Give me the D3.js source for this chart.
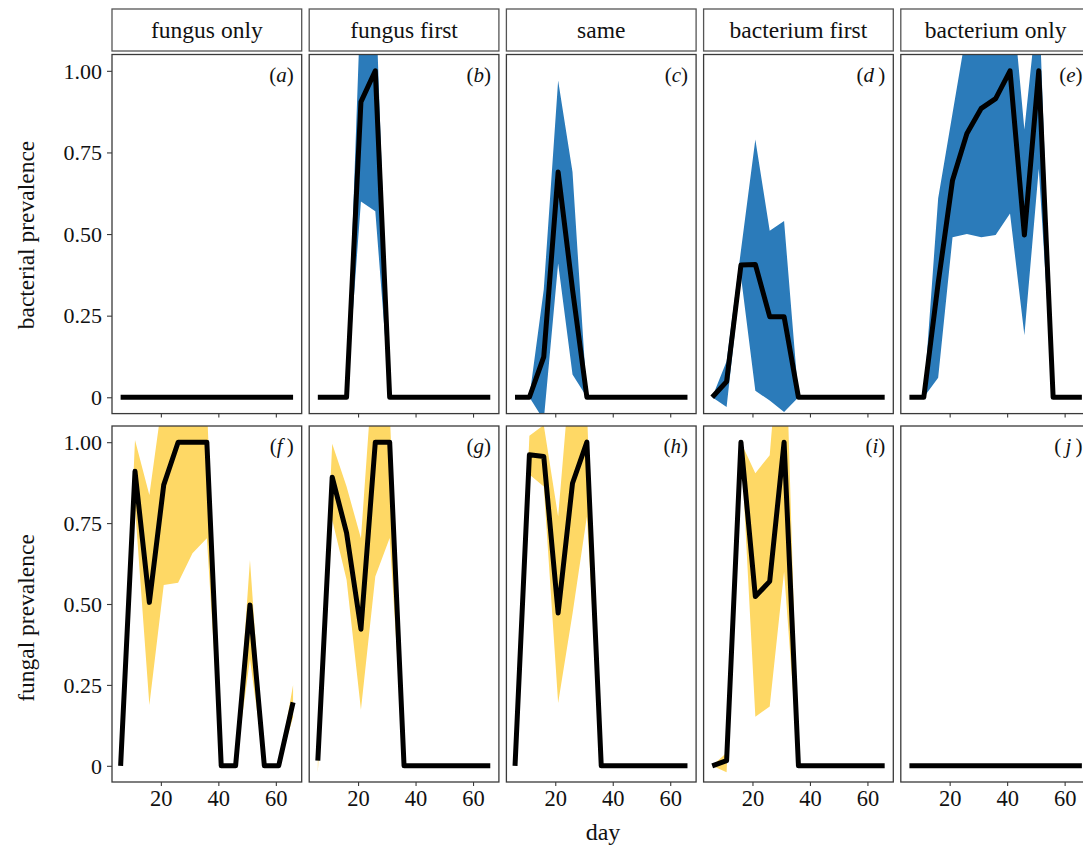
<!DOCTYPE html>
<html><head><meta charset="utf-8">
<script src="https://cdn.jsdelivr.net/npm/d3@7"></script>
<style>
body{margin:0;background:#fff}
svg{display:block}
text{font-family:"Liberation Serif","Times New Roman",serif;fill:#111}
</style>
</head><body>
<svg id="chart" width="1083" height="848"></svg>
<script>
// ---------- data ----------
const days = [6, 11, 16, 21, 26, 31, 36, 41, 46, 51, 56, 61, 66];
const conditions = ["fungus only", "fungus first", "same", "bacterium first", "bacterium only"];
const bacLetters = ["a", "b", "c", "d", "e"];
const funLetters = ["f", "g", "h", "i", "j"];
const yTickValues = [0, 0.25, 0.5, 0.75, 1];
const yTickLabels = ["0", "0.25", "0.50", "0.75", "1.00"];
const xTickValues = [20, 40, 60];
const rowTitles = ["bacterial prevalence", "fungal prevalence"];
const xTitle = "day";

// bacterial prevalence (mean, lower, upper) per condition
const bacMean = [
  [0,0,0,0,0,0,0,0,0,0,0,0,0],
  [0,0,0,0.905,1,0,0,0,0,0,0,0,0],
  [0,0,0.124,0.69,0.33,0,0,0,0,0,0,0,0],
  [0,0.048,0.405,0.407,0.247,0.247,0,0,0,0,0,0,0],
  [0,0,0.35,0.665,0.808,0.885,0.915,1,0.497,1,0,0,0]
];
const bacLow = [
  null,
  [0,0,0,0.60,0.57,0,0,0,0,0,0,0,0],
  [0,0,-0.07,0.41,0.07,0,0,0,0,0,0,0,0],
  [0,-0.03,0.37,0.02,-0.01,-0.045,0,0,0,0,0,0,0],
  [0,0,0.06,0.49,0.50,0.49,0.497,0.563,0.19,0.70,0,0,0]
];
const bacHigh = [
  null,
  [0,0,0,1.24,1.26,0,0,0,0,0,0,0,0],
  [0,0,0.33,0.97,0.69,0,0,0,0,0,0,0,0],
  [0,0.11,0.45,0.79,0.51,0.54,0,0,0,0,0,0,0],
  [0,0,0.61,0.87,1.13,1.3,1.3,1.3,0.82,1.24,0,0,0]
];

// fungal prevalence (mean, lower, upper) per condition
const funMean = [
  [0,0.91,0.505,0.868,1,1,1,0,0,0.497,0,0,0.196],
  [0.016,0.892,0.72,0.422,1,1,0,0,0,0,0,0,0],
  [0,0.961,0.956,0.472,0.873,1,0,0,0,0,0,0,0],
  [0,0.016,1,0.523,0.57,1,0,0,0,0,0,0,0],
  [0,0,0,0,0,0,0,0,0,0,0,0,0]
];
const funLow = [
  [0,0.8,0.188,0.559,0.566,0.657,0.703,0,0,0.33,0,0,0.15],
  [-0.02,0.76,0.575,0.173,0.585,0.704,0,0,0,0,0,0,0],
  [0,0.9,0.863,0.194,0.47,0.77,0,0,0,0,0,0,0],
  [0,-0.02,1,0.152,0.183,0.6,0,0,0,0,0,0,0],
  null
];
const funHigh = [
  [0,1.007,0.837,1.16,1.2,1.2,1.12,0,0,0.636,0,0,0.25],
  [0.03,0.995,0.863,0.703,1.33,1.1,0,0,0,0,0,0,0],
  [0,1.02,1.053,0.77,1.3,1.1,0,0,0,0,0,0,0],
  [0,0.04,1,0.904,0.96,1.5,0,0,0,0,0,0,0],
  null
];

// ---------- layout ----------
const svg = d3.select("#chart");
svg.append("rect").attr("width",1083).attr("height",848).attr("fill","#fff");

const panelLeft0 = 112, panelStep = 197.2, panelW = 189.7;
const rows = [
  {top: 54.5, bottom: 413.6, mean: bacMean, low: bacLow, high: bacHigh, letters: bacLetters, fill: "#2b7bba"},
  {top: 426, bottom: 782, mean: funMean, low: funLow, high: funHigh, letters: funLetters, fill: "#fed865"}
];
const stripTop = 9, stripBottom = 51;
const frameColor = "#3a3a3a";

const x = d3.scaleLinear().domain([3, 69]).range([0, panelW]);

rows.forEach((row, r) => {
  const y = d3.scaleLinear().domain([-0.05, 1.05]).range([row.bottom - row.top, 0]);
  const h = row.bottom - row.top;
  conditions.forEach((cond, c) => {
    const left = panelLeft0 + c * panelStep;
    const g = svg.append("g").attr("transform", `translate(${left},${row.top})`);
    const clipId = `clip-${r}-${c}`;
    g.append("clipPath").attr("id", clipId)
      .append("rect").attr("width", panelW).attr("height", h);

    const body = g.append("g").attr("clip-path", `url(#${clipId})`);
    if (row.low[c]) {
      const rib = days.map((d, i) => ({day: d, lo: row.low[c][i], hi: row.high[c][i]}));
      body.append("path").datum(rib)
        .attr("fill", row.fill)
        .attr("d", d3.area().x(d => x(d.day)).y0(d => y(d.lo)).y1(d => y(d.hi)));
    }
    const pts = days.map((d, i) => ({day: d, v: row.mean[c][i]}));
    body.append("path").datum(pts)
      .attr("fill", "none").attr("stroke", "#000").attr("stroke-width", 5)
      .attr("stroke-linejoin", "round").attr("stroke-linecap", "butt")
      .attr("d", d3.line().x(d => x(d.day)).y(d => y(d.v)));

    g.append("rect").attr("width", panelW).attr("height", h)
      .attr("fill", "none").attr("stroke", frameColor).attr("stroke-width", 1.3);

    // x ticks
    const xAxis = d3.axisBottom(x).tickValues(xTickValues).tickSize(4).tickPadding(4)
      .tickFormat(r === 1 ? d3.format("d") : () => "");
    const ax = g.append("g").attr("transform", `translate(0,${h})`).call(xAxis);
    ax.select(".domain").remove();
    ax.selectAll(".tick line").attr("stroke", frameColor).attr("stroke-width", 1.1);
    ax.selectAll(".tick text").attr("font-size", 22.5).attr("fill", "#111")
      .attr("font-family", "Liberation Serif, Times New Roman, serif")
      .attr("dy", "0.71em");

    // y axis only on first column
    if (c === 0) {
      const yAxis = d3.axisLeft(y).tickValues(yTickValues).tickSize(5).tickPadding(5)
        .tickFormat((d, i) => yTickLabels[i]);
      const ay = g.append("g").call(yAxis);
      ay.select(".domain").remove();
      ay.selectAll(".tick line").attr("stroke", frameColor).attr("stroke-width", 1.1);
      ay.selectAll(".tick text").attr("font-size", 22).attr("fill", "#111")
        .attr("font-family", "Liberation Serif, Times New Roman, serif")
        .attr("dy", "0.33em");
    }

    // panel letter
    const letter = row.letters[c];
    const lab = g.append("text").attr("x", panelW - 8).attr("y", 27)
      .attr("text-anchor", "end").attr("font-size", 21);
    const padBefore = (letter === "j") ? "\u2009" : "";
    const padAfter = (letter === "d" || letter === "f" || letter === "j") ? "\u2009" : "";
    lab.append("tspan").text("(" + padBefore);
    lab.append("tspan").attr("font-style", "italic").text(letter);
    lab.append("tspan").text(padAfter + ")");

    // strip on top row
    if (r === 0) {
      const s = svg.append("g").attr("transform", `translate(${left},${stripTop})`);
      s.append("rect").attr("width", panelW).attr("height", stripBottom - stripTop)
        .attr("fill", "#fff").attr("stroke", "#555").attr("stroke-width", 1.3);
      s.append("text").attr("x", panelW / 2).attr("y", 29)
        .attr("text-anchor", "middle").attr("font-size", 23.5).text(cond);
    }
  });
});

// axis titles
svg.append("text").attr("transform", "translate(34,235) rotate(-90)")
  .attr("text-anchor", "middle").attr("font-size", 23.5).text(rowTitles[0]);
svg.append("text").attr("transform", "translate(34,618) rotate(-90)")
  .attr("text-anchor", "middle").attr("font-size", 23.5).text(rowTitles[1]);
svg.append("text").attr("x", 603).attr("y", 840)
  .attr("text-anchor", "middle").attr("font-size", 24).text(xTitle);
</script>
</body></html>
